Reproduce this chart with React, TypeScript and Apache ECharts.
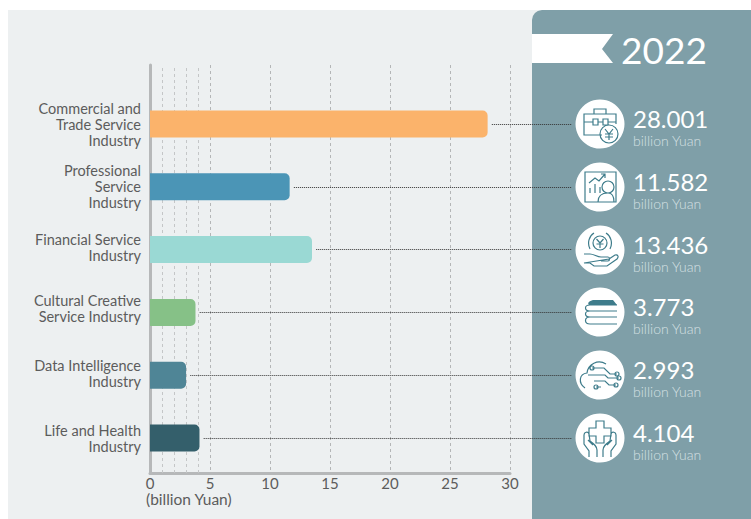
import React, { useEffect, useRef } from "react";
import * as echarts from "echarts";

const categories = [
  "Commercial and\nTrade Service\nIndustry",
  "Professional\nService\nIndustry",
  "Financial Service\nIndustry",
  "Cultural Creative\nService Industry",
  "Data Intelligence\nIndustry",
  "Life and Health\nIndustry",
];
const values = [28.001, 11.582, 13.436, 3.773, 2.993, 4.104];
const barColors = ["#FBB36B", "#4B95B6", "#9AD9D4", "#86C187", "#4F8596", "#345F6B"];
const minorTicks = [1, 2, 3, 4];
const yearLabel = "2022";
const unitLabel = "billion Yuan";
const axisUnitLabel = "(billion Yuan)";

// Line-art icons on a 50x50 box, one per industry.
const iconStrokes = [
  "M27 36H9V15H41V25M19 15V10H31V15M9 23H18M23 23H28M33 23H41M18 20H23V26H18ZM28 20H33V26H28ZM43 35A9 9 0 1 1 25 35A9 9 0 1 1 43 35M30 30L34 35L38 30M34 35V41M30 35H38M30 38H38",
  "M10 10H41V40H10ZM15 31V26M20 31V22M25 31V25M14 21L20 16L24 19L30 12M26 12H30V16M39 25A6 6 0 1 1 27 25A6 6 0 1 1 39 25M23 40C23 34 27 31 33 31C37 31 39 34 39 40",
  "M32 18A7 7 0 1 1 18 18A7 7 0 1 1 32 18M21.5 14L25 18L28.5 14M25 18V23M21.5 19H28.5M15 24C12 18 14 11 19 8M35 24C38 18 36 11 31 8M9 29H15C19 29 22 32 26 32H33C35 32 35 36 33 36H26M34 34L40 30C43 29 44 32 42 34L32 41H19L15 38H9Z",
  "M42 18H15C9 18 9 24 15 24H42M42 24H15C9 24 9 30 15 30H42M42 30H15C9 30 9 37 15 37H42",
  "M10 38C3 33 4 24 12 23C13 14 23 9 31 14M17 18H29L35 24H42M13 25H30L33 28H44M19 31H30L34 35H41M21 37H26M17 18m-2 0a2 2 0 1 0 4 0a2 2 0 1 0 -4 0M42 24m-2 0a2 2 0 1 0 4 0a2 2 0 1 0 -4 0M44 28m-2 0a2 2 0 1 0 4 0a2 2 0 1 0 -4 0M41 35m-2 0a2 2 0 1 0 4 0a2 2 0 1 0 -4 0M21 37m-2 0a2 2 0 1 0 4 0a2 2 0 1 0 -4 0",
  "M21 8H29V15H36V23H29V30H21V23H14V15H21ZM22 44V37C22 33 19 31 15 28L14 21C13 18 9 19 9 22V31L14 38V44M13 27L18 32M28 44V37C28 33 31 31 35 28L36 21C37 18 41 19 41 22V31L36 38V44M37 27L32 32",
];
const iconFills = ["", "", "", "M18 13H38L42 18H14C12 16 14 14 18 13Z", "", ""];

iconStrokes.forEach((d, i) => {
  echarts.graphic.registerShape("industryIcon" + i, echarts.graphic.extendPath(d, {}));
});
iconFills.forEach((d, i) => {
  if (d) echarts.graphic.registerShape("industryFill" + i, echarts.graphic.extendPath(d, {}));
});

const FONT = "Lato";
const PANEL = "#7F9FA8";
const ICON = "#3E7C8B";
const INK = "#5C5C5C";
const rowCentres = [124, 187, 250, 312, 375, 438];
// Vertical middle of each multi-line category label
const labelCentres = [124, 186, 247, 308, 373, 438];

function buildPanel(): any[] {
  const items: any[] = [
    { type: "rect", z: -10, shape: { x: 8, y: 10, width: 530, height: 509 }, style: { fill: "#EDF0F1" } },
    {
      type: "rect",
      z: -9,
      shape: { x: 532, y: 10, width: 230, height: 520, r: [10, 0, 0, 0] },
      style: { fill: PANEL },
    },
    {
      type: "polygon",
      z: 20,
      shape: { points: [[532, 34], [613, 34], [602, 49], [613, 63], [532, 63]] },
      style: { fill: "#FFFFFF" },
    },
    {
      type: "text",
      z: 20,
      x: 621,
      y: 49,
      style: { text: yearLabel, fontFamily: FONT, fontSize: 37, fill: "#FFFFFF", verticalAlign: "middle" },
    },
    {
      type: "text",
      z: 20,
      x: 146,
      y: 499,
      style: { text: axisUnitLabel, fontFamily: FONT, fontSize: 15.5, fill: INK, verticalAlign: "middle" },
    },
  ];
  categories.forEach((name, i) => {
    items.push({
      type: "text",
      z: 20,
      x: 141,
      y: labelCentres[i],
      style: {
        text: name,
        fontFamily: FONT,
        fontSize: 14.5,
        lineHeight: 16,
        fill: INK,
        align: "right",
        verticalAlign: "middle",
      },
    });
  });
  values.forEach((v, i) => {
    const cy = rowCentres[i];
    items.push({ type: "circle", z: 20, shape: { cx: 600, cy, r: 24.5 }, style: { fill: "#FFFFFF" } });
    items.push({
      type: "industryIcon" + i,
      z: 21,
      x: 575,
      y: cy - 25,
      style: { fill: "none", stroke: ICON, lineWidth: 1.2 },
    });
    if (iconFills[i]) {
      items.push({ type: "industryFill" + i, z: 21, x: 575, y: cy - 25, style: { fill: ICON } });
    }
    items.push({
      type: "text",
      z: 20,
      x: 633,
      y: cy - 6,
      style: { text: v.toFixed(3), fontFamily: FONT, fontSize: 24, fill: "#FFFFFF", verticalAlign: "middle" },
    });
    items.push({
      type: "text",
      z: 20,
      x: 633,
      y: cy + 16.5,
      style: { text: unitLabel, fontFamily: FONT, fontSize: 14, fontWeight: 300, fill: "#D5E0E3", verticalAlign: "middle" },
    });
  });
  return items;
}

function buildOption(): any {
  return {
    animation: false,
    backgroundColor: "#FFFFFF",
    grid: [
      { left: 150, top: 65, width: 360, height: 408 },
      { left: 150, top: 92.5, width: 422, height: 377 },
    ],
    xAxis: [
      {
        gridIndex: 0,
        type: "value",
        min: 0,
        max: 30,
        interval: 5,
        axisLine: { show: true, lineStyle: { color: "#B6B8B9", width: 3 } },
        axisTick: { show: false },
        axisLabel: { color: INK, fontFamily: FONT, fontSize: 15, margin: 2 },
        splitLine: { show: true, lineStyle: { color: "#B4B6B7", type: [3, 3], width: 1 } },
      },
      {
        gridIndex: 1,
        type: "value",
        min: 0,
        max: 35,
        show: false,
      },
    ],
    yAxis: [
      {
        gridIndex: 0,
        type: "value",
        min: 0,
        max: 1,
        axisLine: { show: true, lineStyle: { color: "#B6B8B9", width: 3 } },
        axisTick: { show: false },
        axisLabel: { show: false },
        splitLine: { show: false },
      },
      {
        gridIndex: 1,
        type: "category",
        inverse: true,
        data: categories,
        axisLine: { show: false },
        axisTick: { show: false },
        axisLabel: { show: false },
      },
    ],
    series: [
      {
        // Finer gridlines across the first five billion
        type: "line",
        xAxisIndex: 0,
        yAxisIndex: 0,
        data: [],
        silent: true,
        markLine: {
          silent: true,
          symbol: "none",
          label: { show: false },
          lineStyle: { color: "#C4C6C7", type: [3, 3], width: 1 },
          data: minorTicks.map((t) => ({ xAxis: t })),
        },
      },
      {
        type: "bar",
        xAxisIndex: 1,
        yAxisIndex: 1,
        barWidth: 27,
        z: 5,
        data: values.map((v, i) => ({
          value: v,
          itemStyle: { color: barColors[i], borderRadius: [0, 5, 5, 0] },
        })),
        markLine: {
          silent: true,
          symbol: "none",
          label: { show: false },
          lineStyle: { color: "#333333", type: [1, 1], width: 1 },
          data: values.map((v, i) => [
            { xAxis: v + 0.35, yAxis: i },
            { xAxis: 35, yAxis: i },
          ]),
        },
      },
    ],
    graphic: { elements: buildPanel() },
  };
}

export default function App() {
  const ref = useRef<HTMLDivElement>(null);
  useEffect(() => {
    const chart = echarts.init(ref.current, undefined, { renderer: "svg" });
    chart.setOption(buildOption());
    return () => chart.dispose();
  }, []);
  return <div ref={ref} style={{ position: "fixed", left: 0, top: 0, width: 751, height: 519 }} />;
}
